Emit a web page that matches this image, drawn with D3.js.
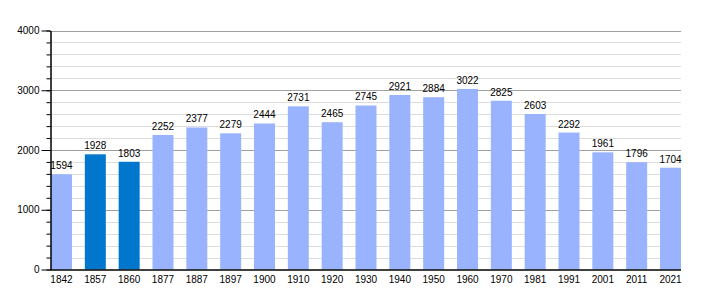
<!DOCTYPE html>
<meta charset="utf-8">
<style>
body {
  margin: 0;
  background: #fff;
  font-family: "Liberation Sans", Arial, Helvetica, sans-serif;
  font-size: 10px;
}
.axis path, .axis line {
  stroke: #000;
}
</style>
<body>
<script src="https://cdn.jsdelivr.net/npm/d3@7"></script>
<script>

var years = ["1842", "1857", "1860", "1877", "1887", "1897", "1900", "1910", "1920", "1930",
             "1940", "1950", "1960", "1970", "1981", "1991", "2001", "2011", "2021"];
var population = [1594, 1928, 1803, 2252, 2377, 2279, 2444, 2731, 2465, 2745,
                  2921, 2884, 3022, 2825, 2603, 2292, 1961, 1796, 1704];
var highlighted = ["1857", "1860"];
var yTicks = [0, 1000, 2000, 3000, 4000];

var width = 710,
    height = 300,
    plotLeft = 50,
    plotRight = 681,
    plotTop = 30.5,
    plotBottom = 269.5;

var svg = d3.select("body").append("svg")
    .attr("width", width)
    .attr("height", height);

var x = d3.scaleBand()
    .domain(years)
    .range([plotLeft + 1, plotRight])
    .paddingInner(0.38)
    .paddingOuter(0);

var y = d3.scaleLinear()
    .domain([0, 4000])
    .range([plotBottom, plotTop]);

// grid lines: light every 200, darker every 1000
var minor = d3.range(200, 4001, 200).filter(function(d) { return d % 1000 !== 0; });

svg.selectAll(".minor")
    .data(minor)
  .enter().append("line")
    .attr("class", "minor")
    .attr("x1", plotLeft)
    .attr("x2", plotRight)
    .attr("y1", function(d) { return Math.round(y(d)) + 0.5; })
    .attr("y2", function(d) { return Math.round(y(d)) + 0.5; })
    .attr("stroke", "#dddddd");

svg.selectAll(".major")
    .data(yTicks.slice(1))
  .enter().append("line")
    .attr("class", "major")
    .attr("x1", plotLeft)
    .attr("x2", plotRight)
    .attr("y1", function(d) { return Math.round(y(d)) + 0.5; })
    .attr("y2", function(d) { return Math.round(y(d)) + 0.5; })
    .attr("stroke", "#a0a0a0");

// bars
svg.selectAll(".bar")
    .data(years)
  .enter().append("rect")
    .attr("class", "bar")
    .attr("x", function(d) { return x(d); })
    .attr("width", x.bandwidth())
    .attr("y", function(d, i) { return y(population[i]); })
    .attr("height", function(d, i) { return plotBottom - y(population[i]); })
    .attr("fill", function(d) { return highlighted.indexOf(d) >= 0 ? "#0077cc" : "#99b3ff"; });

// value labels
svg.selectAll(".value")
    .data(years)
  .enter().append("text")
    .attr("class", "value")
    .attr("text-anchor", "middle")
    .attr("x", function(d) { return x(d) + x.bandwidth() / 2; })
    .attr("y", function(d, i) { return y(population[i]) - 5; })
    .text(function(d, i) { return population[i]; });

// y axis with minor ticks
var yAxisMinor = svg.append("g")
    .attr("transform", "translate(" + (plotLeft + 0.5) + ",0)")
    .call(d3.axisLeft(y).tickValues(d3.range(0, 4001, 200)).tickSize(4).tickFormat(""));
yAxisMinor.select(".domain").remove();

var yAxis = svg.append("g")
    .attr("class", "axis")
    .attr("transform", "translate(" + (plotLeft + 0.5) + ",0)")
    .call(d3.axisLeft(y).tickValues(yTicks).tickSize(9).tickSizeOuter(0).tickPadding(2)
      .tickFormat(function(d) { return String(d); }));
yAxis.selectAll("text")
    .style("font-family", "inherit")
    .style("font-size", "10px")
    .attr("fill", "#000");
yAxis.select(".domain").attr("stroke-width", 1.5);

// x axis line and labels
svg.append("line")
    .attr("x1", plotLeft)
    .attr("x2", plotRight)
    .attr("y1", plotBottom + 0.5)
    .attr("y2", plotBottom + 0.5)
    .attr("stroke", "#000")
    .attr("stroke-width", 1.5);

svg.selectAll(".year")
    .data(years)
  .enter().append("text")
    .attr("class", "year")
    .attr("text-anchor", "middle")
    .attr("x", function(d) { return x(d) + x.bandwidth() / 2; })
    .attr("y", 283)
    .text(function(d) { return d; });

</script>
